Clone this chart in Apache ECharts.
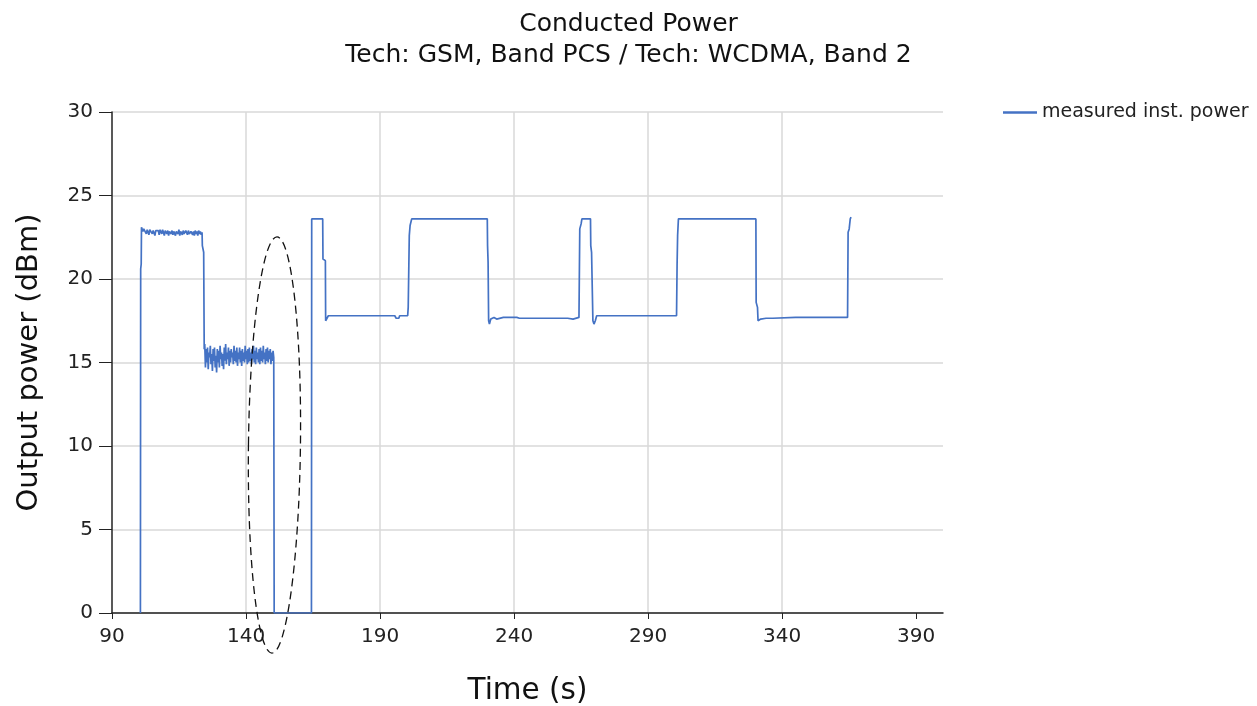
<!DOCTYPE html>
<html><head><meta charset="utf-8">
<script src="https://cdn.jsdelivr.net/npm/echarts@6/dist/echarts.min.js"></script>
<style>html,body{margin:0;padding:0;background:#fff}#c{width:1257px;height:706px}</style>
</head><body><div id="c"></div>
<script>
// ---- data ----
const titleText = 'Conducted Power';
const subtitleText = 'Tech: GSM, Band PCS / Tech: WCDMA, Band 2';
const seriesName = 'measured inst. power';
const xTicks = [90, 140, 190, 240, 290, 340, 390];
const yTicks = [0, 5, 10, 15, 20, 25, 30];

// GSM start (rise)
const gsmRise = [[100.6, 0], [100.7, 20.6], [100.9, 20.9], [101.0, 23.1]];
// GSM high plateau: sampled every 0.32 s from 101.2 s
const gsmHighStart = 101.2, gsmHighStep = 0.32;
const gsmHighValues = [
  23.05, 22.85, 23.0, 22.9, 23.05, 22.7, 22.95, 23.0, 22.65, 22.95,
  22.9, 23.0, 22.7, 22.9, 22.95, 22.6, 22.9, 23.0, 22.85, 22.9,
  22.65, 22.95, 22.9, 22.7, 22.95, 22.85, 22.6, 22.9, 22.95, 22.7,
  22.9, 22.6, 22.85, 22.95, 22.7, 22.9, 22.65, 22.85, 22.9, 22.6,
  22.85, 22.9, 22.7, 22.95, 22.6, 22.85, 22.9, 22.65, 22.9, 22.7,
  22.6, 22.9, 22.85, 22.65, 22.9, 22.7, 22.6, 22.85, 22.9, 22.65,
  22.85, 22.6, 22.9, 22.7, 22.85, 22.6, 22.9, 22.7, 22.85, 22.65];
// GSM power step down
const gsmStep = [[123.6, 22.8], [123.7, 22.0], [124.2, 21.6], [124.4, 15.8]];
// GSM low plateau: sampled every 0.26 s from 124.6 s
const gsmLowStart = 124.6, gsmLowStep = 0.26;
const gsmLowValues = [
  16.1, 14.7, 15.8, 15.0, 15.9, 14.6, 15.6, 15.3, 16.0, 14.9,
  15.5, 14.5, 15.8, 15.1, 15.9, 14.7, 15.4, 14.4, 15.8, 15.0,
  15.7, 14.7, 16.0, 15.2, 15.6, 14.8, 15.5, 14.6, 15.9, 15.1,
  16.1, 14.9, 15.6, 15.2, 15.9, 14.8, 15.7, 15.0, 15.8, 15.3,
  15.6, 14.9, 16.0, 15.1, 15.7, 15.0, 15.9, 14.8, 15.6, 15.2,
  15.9, 15.0, 15.7, 14.8, 15.8, 15.1, 15.6, 15.0, 16.0, 15.2,
  15.7, 14.9, 15.8, 15.0, 15.9, 15.1, 15.6, 14.9, 15.8, 15.2,
  16.0, 15.0, 15.7, 14.9, 15.9, 15.2, 15.6, 15.0, 15.8, 14.9,
  15.9, 15.1, 15.7, 15.0, 16.0, 15.2, 15.6, 14.9, 15.8, 15.1,
  15.9, 15.0, 15.7, 15.2, 15.8, 14.9, 15.6, 15.1, 15.7, 15.3];
// GSM drop / handover gap
const gsmEnd = [[150.4, 15.2], [150.5, 0], [164.4, 0]];
// WCDMA section
const wcdma = [[164.5, 23.6], [168.6, 23.6], [168.7, 21.2], [169.6, 21.1], [169.7, 17.5], [170.3, 17.4],
  [170.7, 17.8], [173.8, 17.8], [174.0, 17.9], [174.3, 17.8], [189.5, 17.8], [190.0, 17.7], [190.3, 17.8],
  [195.5, 17.8], [196.0, 17.65], [197.0, 17.65], [197.3, 17.8], [200.3, 17.8], [200.5, 18.3], [200.9, 22.6],
  [201.2, 23.2], [201.8, 23.6], [230.0, 23.6], [230.1, 22.0], [230.3, 21.0], [230.5, 17.5], [230.8, 17.3],
  [231.3, 17.6], [232.5, 17.7], [233.5, 17.6], [234.0, 17.7], [236.0, 17.7], [236.3, 17.6], [236.6, 17.7],
  [241.0, 17.7], [242.0, 17.65], [260.0, 17.65], [260.3, 17.55], [262.0, 17.6], [264.2, 17.7], [264.5, 23.0],
  [265.0, 23.3], [265.3, 23.6], [268.5, 23.6], [268.6, 22.0], [268.9, 21.6], [269.3, 21.5], [269.4, 17.5],
  [269.8, 17.3], [270.3, 17.5], [270.8, 17.8], [300.6, 17.8], [300.8, 20.8], [301.0, 22.6], [301.3, 23.6],
  [330.2, 23.6], [330.3, 18.6], [330.8, 18.3], [331.0, 17.5], [331.5, 17.5], [332.0, 17.6], [334.0, 17.65],
  [334.5, 17.6], [336.5, 17.65], [345.0, 17.7], [345.4, 17.6], [346.3, 17.7], [364.4, 17.7], [364.6, 22.8],
  [365.0, 23.0], [365.4, 23.6], [365.7, 23.7]];
// dashed ellipse annotation (data coords: centre time, centre power, half-width s, half-height dBm)
const annoEllipse = {t: 150.6, v: 10.06, dt: 9.7, dv: 12.46, tiltDeg: 0.7};

// ---- build ----
const points = [].concat(
  gsmRise,
  gsmHighValues.map((v, i) => [+(gsmHighStart + i * gsmHighStep).toFixed(2), v]),
  gsmStep,
  gsmLowValues.map((v, i) => [+(gsmLowStart + i * gsmLowStep).toFixed(2), v]),
  gsmEnd,
  wcdma
);

const FONT = 'DejaVu Sans';
const chart = echarts.init(document.getElementById('c'), null, {renderer: 'canvas'});
chart.setOption({
  backgroundColor: '#fff',
  animation: false,
  textStyle: {fontFamily: FONT},
  title: [
    {text: titleText, left: 'center', top: 7, textStyle: {fontFamily: FONT, fontSize: 25, fontWeight: 'normal', color: '#111'}},
    {text: subtitleText, left: 'center', top: 38, textStyle: {fontFamily: FONT, fontSize: 25, fontWeight: 'normal', color: '#111'}}
  ],
  legend: {
    left: 998, top: 98, itemWidth: 34, itemHeight: 2.5, itemGap: 8, icon: 'rect',
    textStyle: {fontFamily: FONT, fontSize: 19, color: '#222'},
    data: [seriesName]
  },
  grid: {left: 112, top: 112, right: 314, bottom: 93, containLabel: false, outerBoundsMode: 'none'},
  xAxis: {
    type: 'value', min: 90, max: 400, interval: 50,
    name: 'Time (s)', nameLocation: 'middle', nameGap: 63,
    nameTextStyle: {fontFamily: FONT, fontSize: 29.5, color: '#111'},
    axisLine: {show: true, lineStyle: {color: '#222', width: 1.5}},
    axisTick: {show: true, length: 6, customValues: xTicks, lineStyle: {color: '#222'}},
    axisLabel: {customValues: xTicks, fontSize: 20, color: '#222', margin: 14, fontFamily: FONT},
    splitLine: {show: true, showMinLine: false, showMaxLine: false, lineStyle: {color: '#d9d9d9', width: 1.5}}
  },
  yAxis: {
    type: 'value', min: 0, max: 30, interval: 5,
    name: 'Output power (dBm)', nameLocation: 'middle', nameGap: 68,
    nameTextStyle: {fontFamily: FONT, fontSize: 29, color: '#111'},
    axisLine: {show: true, lineStyle: {color: '#222', width: 1.5}},
    axisTick: {show: true, length: 13, lineStyle: {color: '#222'}},
    axisLabel: {fontSize: 20, color: '#222', margin: 19, fontFamily: FONT},
    splitLine: {show: true, lineStyle: {color: '#d9d9d9', width: 1.5}}
  },
  series: [{
    name: seriesName, type: 'line', data: points, symbol: 'none', showSymbol: false,
    lineStyle: {color: '#4472C4', width: 1.7}, itemStyle: {color: '#4472C4'}
  }]
});

const c = chart.convertToPixel({gridIndex: 0}, [annoEllipse.t, annoEllipse.v]);
const e = chart.convertToPixel({gridIndex: 0}, [annoEllipse.t + annoEllipse.dt, annoEllipse.v + annoEllipse.dv]);
chart.setOption({
  graphic: [{
    type: 'ellipse', silent: true, z: 100,
    x: c[0], y: c[1], rotation: -annoEllipse.tiltDeg * Math.PI / 180,
    shape: {cx: 0, cy: 0, rx: Math.abs(e[0] - c[0]), ry: Math.abs(c[1] - e[1])},
    style: {fill: null, stroke: '#111', lineWidth: 1.3, lineDash: [8, 5]}
  }]
});
</script></body></html>
